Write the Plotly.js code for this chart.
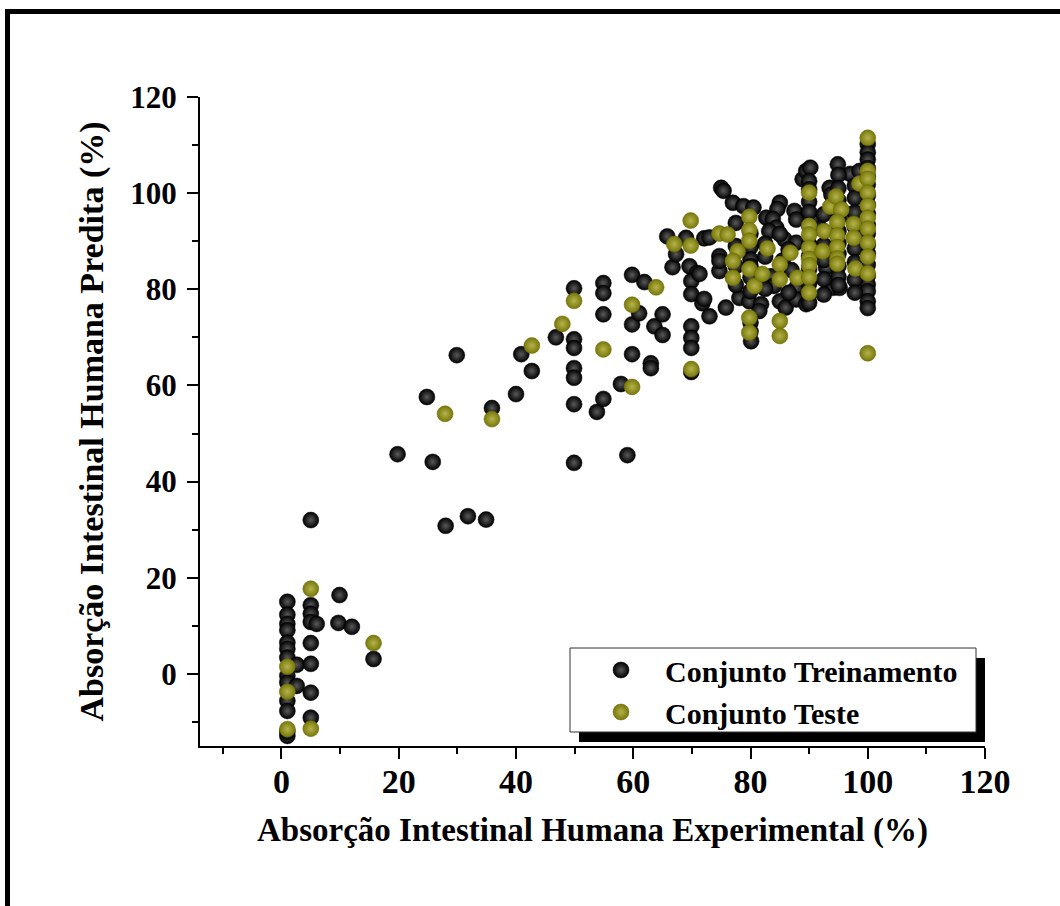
<!DOCTYPE html>
<html>
<head>
<meta charset="utf-8">
<script src="https://cdn.plot.ly/plotly-3.0.1.min.js"></script>
<style>
  html, body { margin: 0; padding: 0; background: #fff; }
  #wrap { position: relative; width: 1060px; height: 906px; }
  #chart { position: absolute; left: 0; top: 0; width: 1060px; height: 906px; }
  #frameTop { position: absolute; left: 5px; top: 9px; width: 1055px; height: 5px; background: #000; }
  #frameLeft { position: absolute; left: 5px; top: 9px; width: 5px; height: 897px; background: #000; }
</style>
</head>
<body>
<div id="wrap">
  <div id="chart"></div>
  <div id="frameTop"></div>
  <div id="frameLeft"></div>
</div>
<script>
// ---- Data ----
const seriesNames = ["Conjunto Treinamento", "Conjunto Teste"];

const xTrain = [
  1,1,1,1,1,1,1,1,1,1,1,1,1,
  2.6,2.6,
  5,5,5,5,5,5,5,5,6,
  9.9,9.7,12,15.7,
  19.8,25.8,24.8,29.9,28,31.8,34.9,35.9,40,40.9,42.7,46.8,
  49.9,49.9,49.9,49.9,49.9,49.9,49.9,53.8,54.9,54.9,54.9,54.9,57.9,59,
  59.8,59.8,59.8,61.9,61,63.6,63,63,65,65,66.7,
  65.8,67.3,69,69.6,70.9,69.9,69.9,71.8,73,74.7,69.9,69.9,69.9,69.9,72.1,73,
  75,75.4,77,78.8,80.5,85,84.6,82.7,83.8,87.5,87.8,88.9,89.5,90.2,94.9,97,98.6,
  93.5,93.8,94.6,96.4,91.8,90.6,84.4,83.2,85.8,87.8,74.7,74.7,71.3,72.1,75.8,
  78.1,79.8,81.8,85,81.5,80.1,86,87.8,87.8,89.5,92.9,94.1,95.2,
  100,100,100,100,100,100,100,100,100,100,100,100,100,100,100,100,100,100,100,
  90,90,90,90,90,90,90,90,90,90,90,
  95,95,95,95,95,95,95,95,95,95,
  97.8,97.8,97.8,97.8,97.8,97.8,97.8,97.8,
  85,86.5,85.5,87,83.5,84,86.5,
  80,80,80,80,80,80,80,80,
  82.5,82.5,82.5,
  77.5,77.5,77.5,77.5,
  92.5,92.5,92.5,92.5,92.5
];
const yTrain = [
  15,12.3,10.4,9.1,6.5,5.2,3.4,-0.4,-1.8,-5.6,-7.7,-12.9,-12,
  1.9,-2.5,
  32,14.3,12.5,10.8,6.4,2.1,-3.9,-9.1,10.4,
  16.4,10.6,9.8,3.1,
  45.7,44.1,57.6,66.3,30.8,32.8,32.1,55.3,58.2,66.5,63,70,
  80.2,69.6,67.8,63.6,61.6,56.1,43.9,54.5,81.3,79.2,74.8,57.2,60.3,45.5,
  83,72.7,66.5,81.5,75,72.3,64.6,63.6,74.8,70.5,84.6,
  91,87.3,90.7,84.8,83.4,81.7,79,77.1,74.4,83.8,72.3,69.9,67.8,62.8,90.6,90.8,
  101.1,100.5,98,97.3,97,98,96.7,94.9,94.6,96.3,94.5,102.9,104.6,105.3,106,104,104.6,
  101.1,99.7,97,95.6,92.8,94.9,92.8,92.1,90.4,89.7,86.9,85.9,83.2,78,76.2,
  78.2,77.5,76.9,77.5,75.5,69.2,76.2,80.3,77.9,76.9,84.5,80.3,80.3,
  110.2,108.5,107,105.2,103.5,101.8,99.5,97.6,95.8,93.4,91.6,89.2,87.5,85.1,82.8,81,79.6,77.5,76.1,
  102.5,100.8,98.2,96.1,93.3,89.4,86.9,84.2,81.2,79,77.2,
  103.8,101,98.5,95.2,92.1,89.6,87.4,84.8,82.6,80.9,
  101.5,99,96,93,88.5,85.6,82,79.3,
  91.5,88.3,86,84,82.7,80.7,79.3,
  91.6,88.8,86.2,84.8,82.5,79.6,73.1,71.2,
  89.5,86.8,80.1,
  93.8,89,84.8,80.9,
  95.6,89.2,86.1,82.1,78.9
];

const xTest = [
  1,1,1,5,5,15.7,
  27.9,35.9,42.7,47.9,49.9,54.9,59.8,59.8,63.9,69.8,67,69.8,69.9,74.7,76.1,
  77.8,77,77,79.8,79.8,79.8,79.8,80.7,82,82.9,85,85,86.8,79.8,79.8,85,85,88,
  90,90,90,90,90,90,90,90,92.3,92.6,93.6,94.6,95.5,94.8,94.8,94.8,94.8,94.8,
  97.6,97.6,97.9,98.6,
  100,100,100,100,100,100,100,100,100,100,100
];
const yTest = [
  1.5,-3.7,-11.5,17.7,-11.4,6.4,
  54.1,53,68.3,72.8,77.6,67.5,76.8,59.7,80.4,94.3,89.4,89.1,63.4,91.6,91.4,
  87.9,85.9,82.4,95.1,92.3,90.1,84.2,80.7,83.2,88.5,85.2,82.1,87.6,74.1,71,73.4,70.3,82.4,
  100.1,93.2,91.4,88.6,86.3,85,82.5,79.3,87.9,92.1,97.2,99.3,96.6,94,91.2,88.8,86.4,85.3,
  93.6,90.7,84.3,102,
  111.5,104.6,103,100.1,97.4,94.9,92.6,89.7,86.8,83.3,66.7
];

const xTickVals = [0, 20, 40, 60, 80, 100, 120];
const yTickVals = [0, 20, 40, 60, 80, 100, 120];

// ---- Styling ----
const serif = "Liberation Serif, Times New Roman, serif";

const traces = [
  {
    x: xTrain, y: yTrain, name: seriesNames[0], type: "scatter", mode: "markers",
    marker: { size: 16, color: "#000000", gradient: { type: "radial", color: "#5a5a5a" },
              line: { width: 0.5, color: "#000" } }
  },
  {
    x: xTest, y: yTest, name: seriesNames[1], type: "scatter", mode: "markers",
    marker: { size: 16, color: "#77770a", gradient: { type: "radial", color: "#b4b44c" },
              line: { width: 0.5, color: "#6a6a08" } }
  }
];

const W = 1060, H = 906;
const L = 200, R = 75, T = 97, B = 160;
const pw = W - L - R, ph = H - T - B;
const px = v => (v - L) / pw;
const py = v => (H - B - v) / ph;

const layout = {
  width: W, height: H,
  margin: { l: L, r: R, t: T, b: B, pad: 0 },
  paper_bgcolor: "#ffffff", plot_bgcolor: "#ffffff",
  showlegend: true,
  xaxis: {
    range: [-13.9, 120],
    tickvals: xTickVals,
    ticks: "outside", ticklen: 11, tickwidth: 2, tickcolor: "#000",
    minor: { dtick: 10, tick0: 0, ticks: "outside", ticklen: 6, tickwidth: 2, tickcolor: "#000" },
    showline: true, linecolor: "#000", linewidth: 2,
    showgrid: false, zeroline: false,
    tickfont: { family: serif, size: 34, color: "#000", weight: "bold" },
    ticklabelstandoff: -7,
    title: { text: "Absorção Intestinal Humana Experimental (%)",
             font: { family: serif, size: 33, color: "#000", weight: "bold" }, standoff: 19 }
  },
  yaxis: {
    range: [-15, 120],
    tickvals: yTickVals,
    ticks: "outside", ticklen: 11, tickwidth: 2, tickcolor: "#000",
    minor: { dtick: 10, tick0: 0, ticks: "outside", ticklen: 6, tickwidth: 2, tickcolor: "#000" },
    showline: true, linecolor: "#000", linewidth: 2,
    showgrid: false, zeroline: false,
    tickfont: { family: serif, size: 31, color: "#000", weight: "bold" },
    ticklabelstandoff: 4,
    title: { text: "Absorção Intestinal Humana Predita (%)",
             font: { family: serif, size: 34, color: "#000", weight: "bold" }, standoff: 16 }
  },
  legend: {
    x: px(577), y: py(644), xanchor: "left", yanchor: "top",
    bgcolor: "rgba(0,0,0,0)", borderwidth: 0,
    font: { family: serif, size: 30, color: "#000", weight: "bold" },
    itemwidth: 78, tracegroupgap: 0
  },
  shapes: [
    { type: "rect", xref: "paper", yref: "paper",
      x0: px(579), x1: px(985), y0: py(742), y1: py(658),
      fillcolor: "#000", line: { width: 0 }, layer: "above" },
    { type: "rect", xref: "paper", yref: "paper",
      x0: px(570), x1: px(976), y0: py(732), y1: py(648),
      fillcolor: "#fff", line: { width: 1, color: "#333" }, layer: "above" }
  ]
};

Plotly.newPlot("chart", traces, layout, { displayModeBar: false, staticPlot: true });
</script>
</body>
</html>
